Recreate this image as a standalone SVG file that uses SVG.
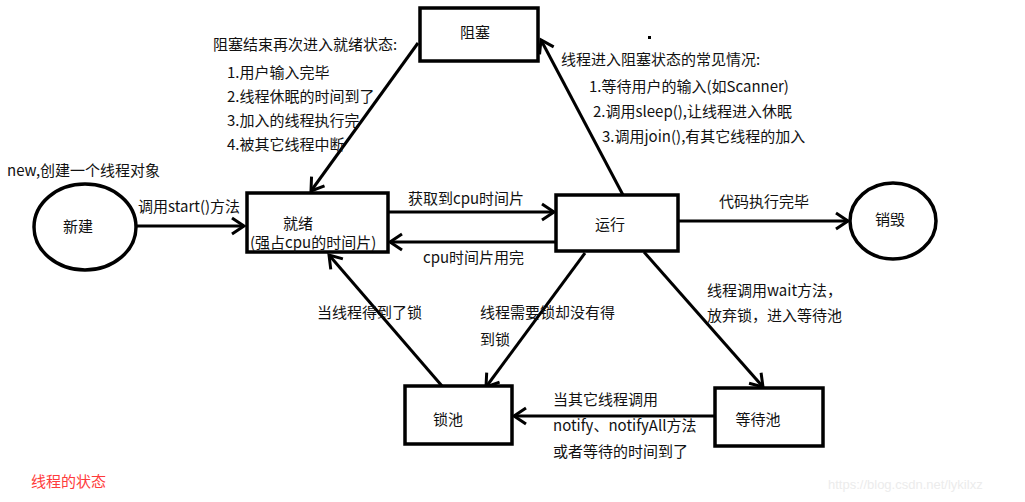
<svg xmlns="http://www.w3.org/2000/svg" width="1025" height="502" viewBox="0 0 1025 502">
<defs>
<style>
.n{fill:#fff;stroke:#000;stroke-width:3.5}
.c{fill:none;stroke:#000;stroke-width:3}
text{font-family:"Microsoft YaHei","Noto Sans CJK SC","Noto Sans",sans-serif;font-size:15px;fill:#111}
.m{text-anchor:middle}
</style>
<marker id="a" viewBox="0 0 14 18" refX="13" refY="9" markerWidth="14" markerHeight="18" markerUnits="userSpaceOnUse" orient="auto" overflow="visible">
<path d="M1,1 L13,9 L1,17" fill="none" stroke="#000" stroke-width="3"/>
</marker>
</defs>
<rect width="1025" height="502" fill="#fff"/>

<g id="connectors">
<line class="c" x1="137" y1="226" x2="244" y2="226" marker-end="url(#a)"/>
<line class="c" x1="388" y1="212" x2="554" y2="212" marker-end="url(#a)"/>
<line class="c" x1="556" y1="242" x2="390" y2="242" marker-end="url(#a)"/>
<line class="c" x1="678" y1="221" x2="848" y2="221" marker-end="url(#a)"/>
<line class="c" x1="623" y1="195" x2="541" y2="40" marker-end="url(#a)"/>
<line class="c" x1="418" y1="43" x2="311" y2="191" marker-end="url(#a)"/>
<line class="c" x1="442" y1="386" x2="329" y2="255" marker-end="url(#a)"/>
<line class="c" x1="585" y1="253" x2="486" y2="387" marker-end="url(#a)"/>
<line class="c" x1="644" y1="252" x2="763" y2="387" marker-end="url(#a)"/>
<line class="c" x1="715" y1="416" x2="514" y2="416" marker-end="url(#a)"/>
</g>

<g id="node-new">
<ellipse class="n" cx="85" cy="227" rx="51" ry="43"/>
<text class="m" x="78" y="232">新建</text>
</g>
<g id="node-ready">
<rect class="n" x="247" y="193" width="141" height="59"/>
<text class="m" x="298" y="229">就绪</text>
<text x="250" y="248">(强占cpu的时间片)</text>
</g>
<g id="node-running">
<rect class="n" x="556" y="195" width="122" height="56"/>
<text class="m" x="610" y="230">运行</text>
</g>
<g id="node-blocked">
<rect class="n" x="420" y="8" width="118" height="53"/>
<text class="m" x="475" y="38">阻塞</text>
</g>
<g id="node-dead">
<ellipse class="n" cx="893" cy="221" rx="43" ry="38"/>
<text class="m" x="890" y="225">销毁</text>
</g>
<g id="node-lockpool">
<rect class="n" x="405" y="386" width="107" height="58"/>
<text class="m" x="448" y="425">锁池</text>
</g>
<g id="node-waitpool">
<rect class="n" x="715" y="388" width="108" height="58"/>
<text class="m" x="758" y="425">等待池</text>
</g>

<g id="labels">
<text x="7" y="176">new,创建一个线程对象</text>
<text x="138" y="212">调用start()方法</text>
<text x="408" y="204">获取到cpu时间片</text>
<text x="423" y="263">cpu时间片用完</text>
<text x="719" y="207">代码执行完毕</text>
<text x="213" y="50">阻塞结束再次进入就绪状态:</text>
<text x="227" y="78">1.用户输入完毕</text>
<text x="227" y="102">2.线程休眠的时间到了</text>
<text x="227" y="126">3.加入的线程执行完</text>
<text x="227" y="150">4.被其它线程中断</text>
<text x="561" y="65">线程进入阻塞状态的常见情况:</text>
<text x="589" y="92">1.等待用户的输入(如Scanner)</text>
<text x="593" y="117">2.调用sleep(),让线程进入休眠</text>
<text x="602" y="142">3.调用join(),有其它线程的加入</text>
<text x="317" y="318">当线程得到了锁</text>
<text x="480" y="318">线程需要锁却没有得</text>
<text x="480" y="345">到锁</text>
<text x="707" y="296">线程调用wait方法，</text>
<text x="707" y="321">放弃锁，进入等待池</text>
<text x="553" y="405">当其它线程调用</text>
<text x="553" y="431">notify、notifyAll方法</text>
<text x="553" y="457">或者等待的时间到了</text>
<text x="31" y="487" style="fill:#ff3b3b">线程的状态</text>
<text x="828" y="489" style="fill:#ececec;font-family:'Liberation Sans',Arial,sans-serif;font-size:13px">https://blog.csdn.net/lykilxz</text>
</g>
<rect x="648" y="36" width="3" height="3" fill="#000"/>
</svg>
